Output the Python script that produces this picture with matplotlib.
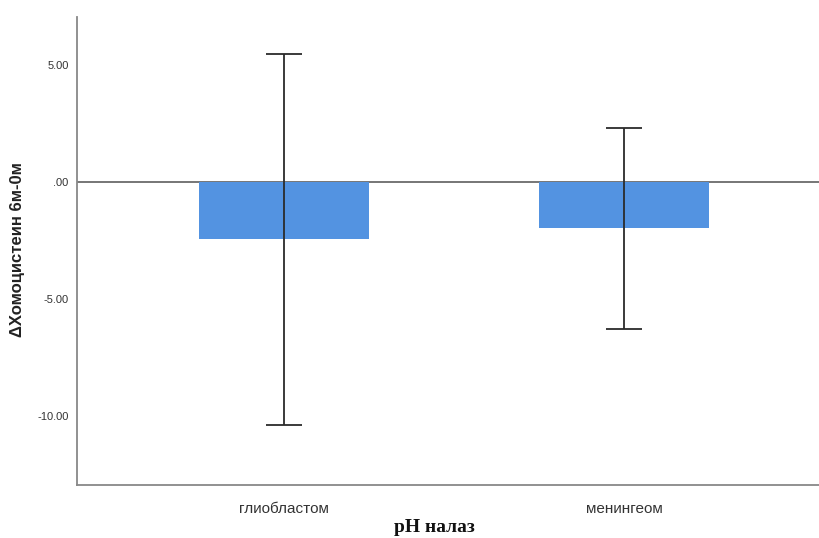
import matplotlib
matplotlib.use('Agg')
import matplotlib.pyplot as plt
import numpy as np

# group means and error bar limits
groups = ["глиобластом", "менингеом"]
means = [-2.47, -2.00]
upper = [5.44, 2.27]
lower = [-10.41, -6.32]

fig = plt.figure(figsize=(8.2, 5.38), dpi=100)
ax = fig.add_axes([77/820, 1 - 485/538, 1 - 77/820, (485 - 17)/538])

x = np.arange(len(groups))
ax.bar(x, means, width=0.5, color='#5393e1', zorder=2)
yerr = [np.array(means) - np.array(lower), np.array(upper) - np.array(means)]
ax.errorbar(x, means, yerr=yerr, fmt='none', ecolor='#2b2b2b', elinewidth=1.3,
            capsize=13, capthick=1.3, zorder=3)
ax.axhline(0, color='#6b6b6b', linewidth=1.3, zorder=1)

ax.set_xlim(-0.609, 1.576)
ax.set_ylim(-12.97, 7.03)
ax.set_yticks([5, 0, -5, -10])
ax.set_yticklabels(["5.00", ".00", "-5.00", "-10.00"], fontsize=8,
                   family='Liberation Sans', color='#333333')
ax.set_xticks(x)
ax.set_xticklabels(groups, fontsize=11, family='Liberation Sans', color='#333333')
ax.tick_params(axis='y', length=0, pad=6)
ax.tick_params(axis='x', length=0, pad=12)

for s in ['top', 'right']:
    ax.spines[s].set_visible(False)
for s in ['left', 'bottom']:
    ax.spines[s].set_color('#888888')
    ax.spines[s].set_linewidth(1.3)

fig.text(18/820, 1 - 250/538, "ΔХомоцистеин 6м-0м", rotation=90, ha='center', va='center',
         fontsize=12, fontweight='bold', family='Liberation Sans', color='#222222')
fig.text(434/820, 1 - 527/538, "pH налаз", ha='center', va='center',
         fontsize=14, fontweight='bold', family='Liberation Serif', color='#111111')

fig.savefig('out.png', dpi=100)
